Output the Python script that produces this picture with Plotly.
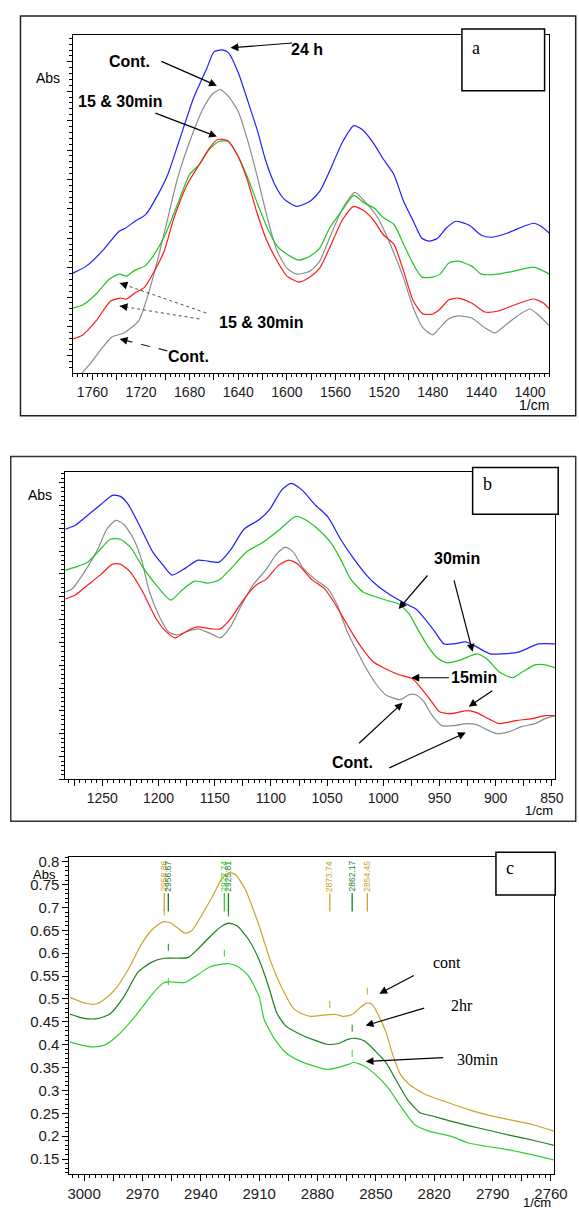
import plotly.graph_objects as go

W, H = 579, 1209

# ---------------- panel a (1776 - 1384 1/cm) ----------------
a_wn_blue = [1776, 1765, 1752, 1738, 1733, 1725, 1716, 1706, 1698, 1688, 1677, 1666, 1660, 1653, 1648,
             1640, 1632, 1624, 1618, 1610, 1602, 1592, 1581, 1573, 1565, 1554, 1545, 1538, 1528, 1521,
             1512, 1504, 1496, 1489, 1483, 1476, 1469, 1461, 1450, 1440, 1432, 1419, 1405, 1397, 1391, 1384]
a_blue = [1.00, 1.07, 1.22, 1.42, 1.45, 1.52, 1.59, 1.79, 1.99, 2.35, 2.75, 3.05, 3.22, 3.24, 3.21,
          3.01, 2.72, 2.42, 2.15, 1.89, 1.74, 1.67, 1.72, 1.82, 2.02, 2.32, 2.48, 2.44, 2.29, 2.15,
          1.99, 1.72, 1.52, 1.35, 1.32, 1.35, 1.45, 1.52, 1.48, 1.38, 1.36, 1.40, 1.47, 1.50, 1.47, 1.40]

a_wn_gray = [1773, 1762, 1752, 1744, 1734, 1722, 1714, 1706, 1698, 1690, 1680, 1669, 1661, 1655, 1648,
             1640, 1632, 1624, 1616, 1608, 1600, 1592, 1581, 1573, 1565, 1554, 1544, 1536, 1525, 1515,
             1504, 1496, 1488, 1480, 1475, 1467, 1459, 1448, 1437, 1429, 1419, 1408, 1400, 1394, 1384]
a_gray = [-0.06, 0.09, 0.25, 0.36, 0.40, 0.52, 0.79, 1.15, 1.55, 1.95, 2.32, 2.65, 2.80, 2.84, 2.77,
          2.62, 2.32, 1.95, 1.55, 1.22, 1.05, 0.99, 1.02, 1.12, 1.35, 1.65, 1.81, 1.72, 1.55, 1.29,
          0.95, 0.65, 0.45, 0.38, 0.44, 0.54, 0.57, 0.55, 0.45, 0.40, 0.49, 0.59, 0.64, 0.59, 0.47]

a_wn_green = [1776, 1768, 1757, 1746, 1738, 1732, 1725, 1717, 1709, 1700, 1690, 1680, 1672, 1664, 1656,
              1648, 1640, 1632, 1624, 1616, 1608, 1600, 1590, 1581, 1573, 1565, 1554, 1545, 1536, 1528,
              1521, 1512, 1504, 1496, 1489, 1480, 1474, 1467, 1459, 1448, 1440, 1426, 1413, 1397, 1384]
a_green = [0.65, 0.68, 0.79, 0.94, 0.99, 0.97, 1.03, 1.07, 1.19, 1.39, 1.69, 1.99, 2.09, 2.24, 2.32,
           2.32, 2.17, 1.95, 1.69, 1.45, 1.27, 1.19, 1.13, 1.17, 1.25, 1.45, 1.64, 1.78, 1.70, 1.65,
           1.56, 1.49, 1.29, 1.09, 0.96, 0.96, 0.99, 1.10, 1.12, 1.07, 0.99, 0.99, 1.02, 1.06, 0.99]

a_wn_red = [1776, 1768, 1757, 1745, 1737, 1732, 1725, 1717, 1709, 1701, 1693, 1682, 1672, 1664, 1657,
            1649, 1641, 1633, 1625, 1617, 1608, 1600, 1590, 1581, 1573, 1565, 1554, 1545, 1536, 1528,
            1521, 1512, 1504, 1496, 1488, 1480, 1474, 1467, 1459, 1448, 1437, 1426, 1413, 1397, 1389, 1384]
a_red = [0.34, 0.38, 0.52, 0.72, 0.75, 0.74, 0.80, 0.86, 1.02, 1.22, 1.55, 1.89, 2.09, 2.25, 2.34,
         2.33, 2.19, 1.95, 1.62, 1.34, 1.12, 0.97, 0.91, 0.96, 1.05, 1.25, 1.54, 1.67, 1.62, 1.52,
         1.39, 1.29, 1.02, 0.72, 0.59, 0.59, 0.64, 0.73, 0.75, 0.70, 0.61, 0.62, 0.68, 0.74, 0.70, 0.64]

a_tickvals = list(range(1760, 1380, -20))
a_ticktext = [str(v) if v % 40 == 0 else "" for v in a_tickvals]

# ---------------- panel b (1283 - 847 1/cm) ----------------
b_wn_blue = [1283, 1274, 1263, 1251, 1241, 1234, 1227, 1217, 1205, 1196, 1188, 1176, 1165, 1156, 1146,
             1136, 1124, 1110, 1101, 1090, 1082, 1072, 1061, 1049, 1038, 1026, 1015, 1006, 995, 983,
             971, 963, 954, 946, 937, 927, 917, 905, 894, 879, 862, 847]
b_blue = [2.51, 2.55, 2.65, 2.76, 2.85, 2.84, 2.76, 2.55, 2.28, 2.15, 2.05, 2.12, 2.20, 2.19, 2.18,
          2.30, 2.51, 2.61, 2.71, 2.91, 2.97, 2.90, 2.76, 2.63, 2.41, 2.21, 2.05, 1.95, 1.86, 1.78,
          1.71, 1.61, 1.48, 1.36, 1.36, 1.38, 1.33, 1.26, 1.26, 1.28, 1.36, 1.36]

b_wn_gray = [1283, 1277, 1266, 1254, 1246, 1238, 1231, 1222, 1215, 1208, 1199, 1191, 1184, 1173, 1165,
             1153, 1145, 1136, 1127, 1116, 1104, 1095, 1087, 1080, 1072, 1061, 1049, 1041, 1032, 1023,
             1015, 1006, 998, 985, 977, 971, 964, 957, 948, 937, 925, 917, 908, 899, 888, 877, 865, 856, 847]
b_gray = [1.88, 1.91, 2.08, 2.31, 2.51, 2.60, 2.56, 2.41, 2.20, 1.88, 1.63, 1.48, 1.45, 1.49, 1.51,
          1.46, 1.42, 1.53, 1.73, 1.95, 2.11, 2.26, 2.33, 2.28, 2.13, 2.01, 1.91, 1.75, 1.48, 1.28,
          1.11, 0.95, 0.85, 0.80, 0.85, 0.85, 0.78, 0.65, 0.54, 0.54, 0.56, 0.55, 0.50, 0.46, 0.48,
          0.53, 0.56, 0.61, 0.64]

b_wn_green = [1283, 1274, 1263, 1254, 1243, 1234, 1225, 1214, 1202, 1189, 1179, 1168, 1156, 1146, 1136,
              1122, 1107, 1093, 1078, 1070, 1058, 1047, 1038, 1029, 1018, 1006, 995, 986, 977, 969,
              960, 951, 943, 931, 917, 908, 897, 885, 876, 865, 856, 847]
b_green = [2.10, 2.13, 2.18, 2.28, 2.41, 2.41, 2.33, 2.13, 1.95, 1.80, 1.90, 1.99, 1.97, 2.00, 2.11,
           2.28, 2.38, 2.50, 2.64, 2.61, 2.51, 2.38, 2.21, 2.01, 1.88, 1.83, 1.79, 1.76, 1.66, 1.50,
           1.33, 1.21, 1.17, 1.20, 1.26, 1.21, 1.08, 1.02, 1.08, 1.15, 1.15, 1.12]

b_wn_red = [1283, 1274, 1263, 1251, 1241, 1234, 1225, 1214, 1202, 1193, 1185, 1173, 1165, 1153, 1145,
            1136, 1124, 1113, 1104, 1093, 1084, 1076, 1064, 1052, 1044, 1032, 1021, 1009, 998, 986,
            974, 966, 957, 950, 940, 925, 917, 905, 897, 882, 868, 856, 847]
b_red = [1.81, 1.85, 1.95, 2.06, 2.16, 2.16, 2.08, 1.88, 1.61, 1.48, 1.42, 1.50, 1.53, 1.51, 1.51,
         1.61, 1.81, 1.95, 2.01, 2.15, 2.20, 2.16, 2.01, 1.91, 1.78, 1.55, 1.35, 1.18, 1.11, 1.05,
         1.01, 0.91, 0.78, 0.68, 0.66, 0.69, 0.67, 0.60, 0.56, 0.59, 0.61, 0.64, 0.64]

b_tickvals = list(range(1275, 845, -25))
b_ticktext = [str(v) if v % 50 == 0 else "" for v in b_tickvals]

# ---------------- panel c (3007 - 2759 1/cm) ----------------
c_wn_cont = [3007.5, 2998.8, 2993.8, 2989.6, 2983.8, 2977.1, 2970.5, 2964.7, 2959.2, 2955.5, 2951.3,
             2948.0, 2944.7, 2939.7, 2933.9, 2928.9, 2925.6, 2922.2, 2917.2, 2910.6, 2903.9, 2897.3,
             2892.3, 2889.0, 2883.5, 2876.1, 2870.6, 2866.9, 2862.3, 2858.6, 2854.9, 2852.1, 2848.5,
             2844.8, 2841.1, 2837.4, 2832.8, 2824.5, 2815.3, 2802.4, 2793.2, 2780.3, 2769.2, 2758.5]
c_cont = [0.504, 0.490, 0.489, 0.499, 0.522, 0.566, 0.620, 0.653, 0.669, 0.666, 0.653,
          0.644, 0.649, 0.682, 0.725, 0.765, 0.776, 0.772, 0.740, 0.667, 0.580, 0.515,
          0.479, 0.470, 0.462, 0.465, 0.466, 0.462, 0.466, 0.479, 0.491, 0.489, 0.463,
          0.427, 0.375, 0.335, 0.313, 0.291, 0.277, 0.258, 0.247, 0.235, 0.225, 0.211]

c_wn_2hr = [3007.5, 3000.6, 2993.2, 2986.7, 2979.5, 2972.2, 2965.5, 2958.8, 2952.2, 2946.3, 2940.6,
            2933.9, 2928.9, 2925.6, 2921.4, 2915.6, 2910.0, 2905.0, 2901.0, 2896.4, 2889.0, 2881.6,
            2875.2, 2869.7, 2864.1, 2860.5, 2855.8, 2850.3, 2844.8, 2839.3, 2833.7, 2827.3, 2820.8,
            2811.6, 2802.4, 2793.2, 2780.3, 2769.2, 2758.5]
c_2hr = [0.467, 0.458, 0.457, 0.467, 0.505, 0.559, 0.580, 0.589, 0.589, 0.591, 0.613,
         0.642, 0.660, 0.666, 0.660, 0.631, 0.585, 0.525, 0.470, 0.441, 0.423, 0.410,
         0.401, 0.402, 0.412, 0.414, 0.408, 0.386, 0.361, 0.320, 0.280, 0.251, 0.244,
         0.233, 0.223, 0.214, 0.201, 0.191, 0.180]

c_wn_30 = [3007.5, 3001.5, 2995.0, 2989.5, 2983.0, 2975.7, 2968.3, 2965.5, 2958.8, 2953.8, 2948.0,
           2942.2, 2935.5, 2930.5, 2925.6, 2920.6, 2915.6, 2910.0, 2907.5, 2902.0, 2896.4, 2889.0,
           2881.6, 2875.2, 2869.7, 2864.1, 2861.4, 2855.8, 2850.3, 2843.8, 2837.4, 2830.0, 2822.7,
           2811.6, 2802.4, 2793.2, 2780.3, 2769.2, 2758.5]
c_30 = [0.406, 0.399, 0.395, 0.399, 0.419, 0.452, 0.492, 0.508, 0.536, 0.537, 0.536,
        0.551, 0.570, 0.575, 0.577, 0.570, 0.551, 0.505, 0.456, 0.412, 0.383, 0.364,
        0.353, 0.346, 0.350, 0.357, 0.361, 0.353, 0.335, 0.306, 0.266, 0.225, 0.211,
        0.200, 0.185, 0.178, 0.169, 0.159, 0.148]

# peak picks (position, height of the little mark on the curve)
c_pk_cont_wn = [2958.8, 2873.7, 2854.4]
c_pk_cont_y = [0.678, 0.476, 0.505]
c_pk_cont_txt = ["2958.86", "2873.74", "2854.45"]
c_pk_2hr_wn = [2956.7, 2925.8, 2862.2]
c_pk_2hr_y = [0.601, 0.676, 0.424]
c_pk_2hr_txt = ["2956.67", "2925.81", "2862.17"]
c_pk_30_wn = [2956.7, 2927.9, 2862.2]
c_pk_30_y = [0.526, 0.588, 0.369]
c_pk_30_txt = ["", "2927.74", ""]

c_tickvals = list(range(3000, 2755, -15))
c_ticktext = [str(v) if v % 30 == 0 else "" for v in c_tickvals]

BLUE, GRAY, GREEN, RED = "#1f1fff", "#8c8c8c", "#21c421", "#ff1a1a"
C_CONT, C_2HR, C_30 = "#c9a52a", "#1e7d1e", "#2fd12f"

SANS = "Liberation Sans, Arial, sans-serif"
SERIF = "Liberation Serif, Times New Roman, serif"


def fx(p):
    return p / W


def fy(p):
    return 1 - p / H


fig = go.Figure()


def curve(x, y, color, xa, ya):
    fig.add_trace(go.Scatter(x=x, y=y, mode="lines", xaxis=xa, yaxis=ya,
                             line=dict(color=color, width=1.2, shape="spline", smoothing=0.6),
                             showlegend=False, hoverinfo="skip"))


curve(a_wn_blue, a_blue, BLUE, "x", "y")
curve(a_wn_gray, a_gray, GRAY, "x", "y")
curve(a_wn_green, a_green, GREEN, "x", "y")
curve(a_wn_red, a_red, RED, "x", "y")

curve(b_wn_blue, b_blue, BLUE, "x2", "y2")
curve(b_wn_gray, b_gray, GRAY, "x2", "y2")
curve(b_wn_green, b_green, GREEN, "x2", "y2")
curve(b_wn_red, b_red, RED, "x2", "y2")

curve(c_wn_cont, c_cont, C_CONT, "x3", "y3")
curve(c_wn_2hr, c_2hr, C_2HR, "x3", "y3")
curve(c_wn_30, c_30, C_30, "x3", "y3")

# peak marks on the curves and the pick lines near the top
for wn, ys, txt, col in [(c_pk_cont_wn, c_pk_cont_y, c_pk_cont_txt, C_CONT),
                         (c_pk_2hr_wn, c_pk_2hr_y, c_pk_2hr_txt, C_2HR),
                         (c_pk_30_wn, c_pk_30_y, c_pk_30_txt, C_30)]:
    fig.add_trace(go.Scatter(x=wn, y=[v + 0.012 for v in ys], mode="markers", xaxis="x3", yaxis="y3",
                             marker=dict(symbol="line-ns", size=5, line=dict(color=col, width=1)),
                             showlegend=False, hoverinfo="skip"))
    keep = [w for w, t in zip(wn, txt) if t]
    fig.add_trace(go.Scatter(x=keep, y=[0.711] * len(keep), mode="markers", xaxis="x3", yaxis="y3",
                             marker=dict(symbol="line-ns", size=13, line=dict(color=col, width=1.3)),
                             showlegend=False, hoverinfo="skip"))
    for w, t in zip(wn, txt):
        if t:
            fig.add_annotation(x=w, y=0.768, xref="x3", yref="y3", text=t, textangle=-90,
                               xanchor="center", yanchor="middle", showarrow=False,
                               font=dict(family=SANS, size=8.5, color=col))

tickfont = dict(family=SANS, size=14, color="#1a1a1a")
base = dict(showline=True, linecolor="black", linewidth=1, mirror=True, ticks="outside",
            tickcolor="black", ticklen=6, tickwidth=1, showgrid=False, zeroline=False,
            tickfont=tickfont, ticklabeloverflow="allow")

fig.update_layout(
    width=W, height=H, margin=dict(l=0, r=0, t=0, b=0), autosize=False,
    paper_bgcolor="white", plot_bgcolor="white", showlegend=False,
    xaxis=dict(base, domain=[fx(73), fx(563)], range=[1776, 1384], anchor="y",
               tickmode="array", tickvals=a_tickvals, ticktext=a_ticktext,
               minor=dict(ticks="outside", ticklen=3, tick0=1380, dtick=4, tickcolor="black")),
    yaxis=dict(base, domain=[fy(370), fy(31)], range=[0, 3.39], anchor="x", showticklabels=False,
               tick0=0.17, dtick=0.295, ticklen=5,
               minor=dict(ticks="outside", ticklen=3, tick0=0.17, dtick=0.059, tickcolor="black")),
    xaxis2=dict(base, domain=[fx(65), fx(569)], range=[1283, 847], anchor="y2",
                tickmode="array", tickvals=b_tickvals, ticktext=b_ticktext,
                minor=dict(ticks="outside", ticklen=3, tick0=850, dtick=5, tickcolor="black")),
    yaxis2=dict(base, domain=[fy(778), fy(470)], range=[0, 3.08], anchor="x2", showticklabels=False,
                tick0=0.23, dtick=0.229, ticklen=5,
                minor=dict(ticks="outside", ticklen=3, tick0=0.23, dtick=0.0458, tickcolor="black")),
    xaxis3=dict(base, domain=[fx(69.4), fx(567.6)], range=[3007.5, 2758.5], anchor="y3",
                tickmode="array", tickvals=c_tickvals, ticktext=c_ticktext,
                tickfont=dict(family=SANS, size=15, color="#1a1a1a"),
                minor=dict(ticks="outside", ticklen=3, tick0=3000, dtick=3, tickcolor="black")),
    yaxis3=dict(base, domain=[fy(1174), fy(856)], range=[0.117, 0.81], anchor="x3",
                tick0=0.15, dtick=0.05, tickformat="~g",
                tickfont=dict(family=SANS, size=15, color="#1a1a1a"),
                minor=dict(ticks="outside", ticklen=3, tick0=0.15, dtick=0.01, tickcolor="black")),
)

# outer frames of panels a and b (their right side runs off the page)
fig.add_shape(type="rect", xref="paper", yref="paper", x0=fx(19), x1=fx(590), y0=fy(413), y1=fy(12),
              line=dict(color="#222", width=1.5))
fig.add_shape(type="rect", xref="paper", yref="paper", x0=fx(9), x1=fx(590), y0=fy(820), y1=fy(454),
              line=dict(color="#333", width=1.5))

# panel letter boxes
for (x0, y0, x1, y1), (tx, ty), letter in [((473, 25, 558, 87), (487, 44), "a"),
                                           ((484, 465, 572, 512), (499, 482), "b"),
                                           ((508, 851, 569, 894), (522, 867), "c")]:
    fig.add_shape(type="rect", xref="paper", yref="paper", x0=fx(x0), x1=fx(x1), y0=fy(y1), y1=fy(y0),
                  line=dict(color="black", width=1.5), fillcolor="white", layer="above")
    fig.add_annotation(x=fx(tx), y=fy(ty), xref="paper", yref="paper", text=letter, showarrow=False,
                       xanchor="center", yanchor="middle",
                       font=dict(family=SERIF, size=18, color="black"))


def label(x, y, text, size=14, family=SANS, bold=False):
    fig.add_annotation(x=fx(x), y=fy(y), xref="paper", yref="paper", showarrow=False,
                       xanchor="center", yanchor="middle",
                       text=f"<b>{text}</b>" if bold else text,
                       font=dict(family=family, size=size, color="black"))


def arrow(tx, ty, hx, hy):
    fig.add_annotation(x=fx(hx), y=fy(hy), xref="paper", yref="paper", text="", showarrow=True,
                       ax=tx - hx, ay=ty - hy, arrowhead=2, arrowsize=1.3, arrowwidth=1.2,
                       arrowcolor="black")


def dashed_arrow(tx, ty, hx, hy, dash, width=1):
    fig.add_shape(type="line", xref="paper", yref="paper", x0=fx(tx), y0=fy(ty), x1=fx(hx), y1=fy(hy),
                  line=dict(color="#222", width=width, dash=dash))
    d = ((tx - hx) ** 2 + (ty - hy) ** 2) ** 0.5
    fig.add_annotation(x=fx(hx), y=fy(hy), xref="paper", yref="paper", text="", showarrow=True,
                       ax=(tx - hx) / d * 9, ay=(ty - hy) / d * 9, arrowhead=2, arrowsize=1.3,
                       arrowwidth=1.2, arrowcolor="black")


# axis captions
label(47, 74, "Abs", 14)
label(547, 402, "1/cm", 14)
label(39, 493, "Abs", 14)
label(552, 809, "1/cm", 13)
label(44, 873, "Abs", 13)
label(550, 1202, "1/cm", 13)

# panel a annotations
label(314, 46, "24 h", 16, bold=True)
label(131, 58, "Cont.", 16, bold=True)
label(121, 98, "15 &amp; 30min", 16, bold=True)
label(266, 320, "15 &amp; 30min", 16, bold=True)
label(192, 354, "Cont.", 16, bold=True)
arrow(298, 39, 235, 44)
arrow(164, 57, 221, 82)
arrow(158, 109, 221, 133)
dashed_arrow(210, 310, 121, 280, "dot", 0.8)
dashed_arrow(203, 316, 121, 303, "dot", 0.8)
dashed_arrow(170, 348, 121, 336, "dash", 1.2)

# panel b annotations
label(468, 556, "30min", 16, bold=True)
label(485, 676, "15min", 16, bold=True)
label(360, 761, "Cont.", 16, bold=True)
arrow(438, 572, 408, 607)
arrow(465, 577, 484, 650)
arrow(460, 676, 421, 676)
arrow(505, 688, 480, 705)
arrow(367, 743, 412, 701)
arrow(399, 767, 477, 731)

# panel c annotations
label(458, 962, "cont", 16, family=SERIF)
label(473, 1005, "2hr", 16, family=SERIF)
label(489, 1059, "30min", 16, family=SERIF)
arrow(424, 974, 388, 993)
arrow(434, 1007, 374, 1025)
arrow(453, 1057, 374, 1061)

# the page body's default 8 px margin would push the fixed-size figure off the window
fig.write_html("out.html", config={"displayModeBar": False},
               post_script="document.body.style.margin='0';document.body.style.overflow='hidden';")
